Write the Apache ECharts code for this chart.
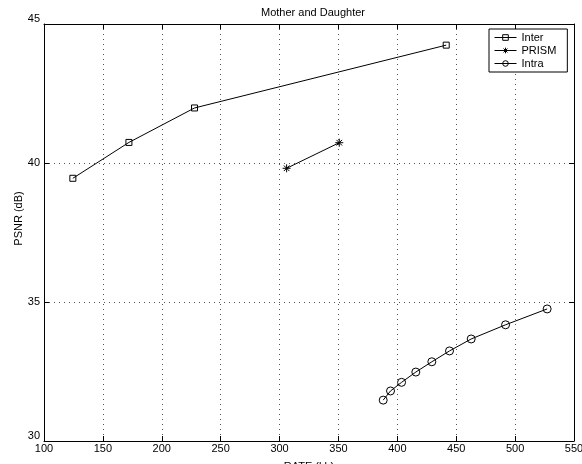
<!DOCTYPE html>
<html>
<head>
<meta charset="utf-8">
<script src="https://cdn.jsdelivr.net/npm/echarts@6/dist/echarts.min.js"></script>
<style>
  html, body { margin: 0; padding: 0; background: #fff; }
  #main { width: 582px; height: 464px; }
</style>
</head>
<body>
<div id="main"></div>
<script>
// data (rate in kb, PSNR in dB)
var interRate = [124.5, 172.1, 227.8, 441.5];
var interPsnr = [39.45, 40.74, 41.98, 44.24];
var prismRate = [306.0, 350.7];
var prismPsnr = [39.81, 40.73];
var intraRate = [388.0, 394.2, 403.6, 415.7, 429.3, 444.3, 462.7, 491.9, 527.2];
var intraPsnr = [31.47, 31.80, 32.11, 32.48, 32.85, 33.24, 33.67, 34.18, 34.75];

function pairs(xs, ys) {
    var out = [];
    for (var i = 0; i < xs.length; i++) {
        out.push([xs[i], ys[i]]);
    }
    return out;
}

var font = 'Liberation Sans, Arial, Helvetica, sans-serif';
var starPath = 'path://M0,5L10,5M5,0L5,10M1.5,1.5L8.5,8.5M8.5,1.5L1.5,8.5';

var myChart = echarts.init(document.getElementById('main'));

var markerStyle = {
    color: 'transparent',
    borderColor: '#000',
    borderWidth: 1
};

var option = {
    backgroundColor: '#fff',
    animation: false,
    textStyle: { fontFamily: font },
    title: {
        text: 'Mother and Daughter',
        left: 308,
        textAlign: 'center',
        top: 2,
        textStyle: { fontSize: 11, fontWeight: 'normal', color: '#000', fontFamily: font }
    },
    grid: { left: 44, right: 8, top: 24, bottom: 23, outerBoundsMode: 'none', containLabel: false },
    legend: {
        orient: 'vertical',
        left: 489,
        top: 29,
        backgroundColor: '#fff',
        borderColor: '#000',
        borderWidth: 1,
        borderRadius: 0,
        padding: [3, 11, 3, 5],
        itemGap: 2,
        itemWidth: 22,
        itemHeight: 7,
        lineStyle: { width: 1, color: '#000' },
        itemStyle: { color: 'transparent', borderColor: '#000', borderWidth: 1 },
        textStyle: { fontSize: 11, color: '#000', fontFamily: font },
        data: ['Inter', 'PRISM', 'Intra']
    },
    xAxis: [{
        type: 'value',
        min: 100,
        max: 550,
        interval: 50,
        name: 'RATE (kb)',
        nameLocation: 'middle',
        nameGap: 20,
        nameMoveOverlap: false,
        nameTextStyle: { fontSize: 11, color: '#000', fontFamily: font, verticalAlign: 'top' },
        axisLine: { lineStyle: { color: '#000', width: 1 } },
        axisTick: { inside: true, length: 5, lineStyle: { color: '#000' } },
        axisLabel: { fontSize: 11, color: '#000', margin: 2, fontFamily: font },
        splitLine: { show: true, lineStyle: { color: '#555', type: [1, 4], width: 1 } }
    }, {
        type: 'value',
        position: 'top',
        min: 100,
        max: 550,
        interval: 50,
        axisLine: { show: true, lineStyle: { color: '#000', width: 1 } },
        axisTick: { inside: true, length: 5, lineStyle: { color: '#000' } },
        axisLabel: { show: false },
        splitLine: { show: false }
    }],
    yAxis: [{
        type: 'value',
        min: 30,
        max: 45,
        interval: 5,
        name: 'PSNR (dB)',
        nameLocation: 'middle',
        nameGap: 20,
        nameMoveOverlap: false,
        nameTextStyle: { fontSize: 11, color: '#000', fontFamily: font, padding: [0, 0, 0, 28] },
        axisLine: { show: true, lineStyle: { color: '#000', width: 1 } },
        axisTick: { show: true, inside: true, length: 5, lineStyle: { color: '#000' } },
        axisLabel: {
            fontSize: 11, color: '#000', margin: 4, fontFamily: font,
            verticalAlignMinLabel: 'bottom', verticalAlignMaxLabel: 'bottom'
        },
        splitLine: { show: true, lineStyle: { color: '#555', type: [1, 4], width: 1 } }
    }, {
        type: 'value',
        position: 'right',
        min: 30,
        max: 45,
        interval: 5,
        axisLine: { show: true, lineStyle: { color: '#000', width: 1 } },
        axisTick: { show: true, inside: true, length: 5, lineStyle: { color: '#000' } },
        axisLabel: { show: false },
        splitLine: { show: false }
    }],
    series: [{
        name: 'Inter',
        type: 'line',
        data: pairs(interRate, interPsnr),
        symbol: 'rect',
        symbolSize: 6,
        lineStyle: { color: '#000', width: 1 },
        itemStyle: markerStyle
    }, {
        name: 'PRISM',
        type: 'line',
        data: pairs(prismRate, prismPsnr),
        symbol: starPath,
        symbolSize: 8,
        lineStyle: { color: '#000', width: 1 },
        itemStyle: markerStyle
    }, {
        name: 'Intra',
        type: 'line',
        data: pairs(intraRate, intraPsnr),
        symbol: 'circle',
        symbolSize: 8,
        lineStyle: { color: '#000', width: 1 },
        itemStyle: markerStyle
    }]
};

myChart.setOption(option);
</script>
</body>
</html>
